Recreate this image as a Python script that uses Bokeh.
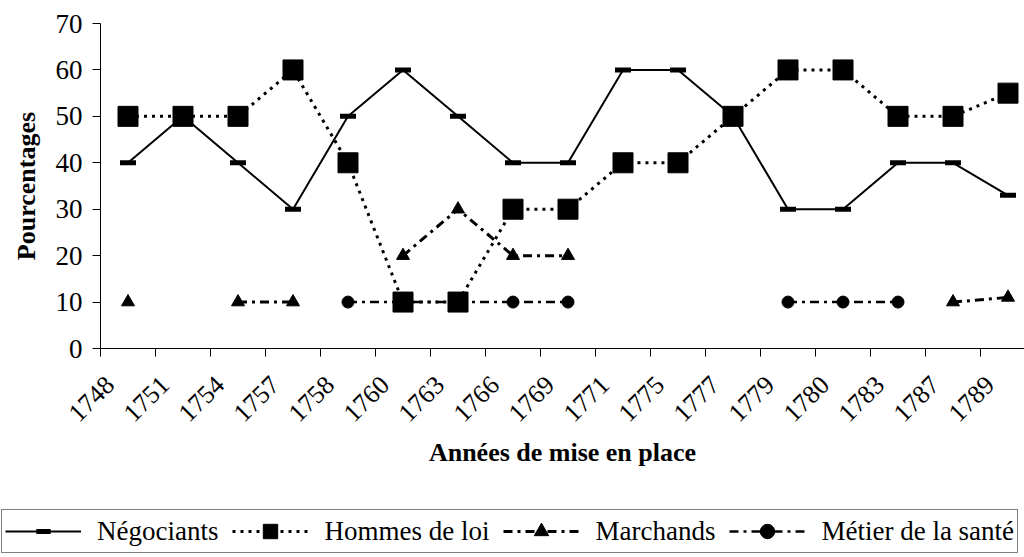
import math
from bokeh.plotting import figure
from bokeh.layouts import column
from bokeh.models import Range1d, FixedTicker, Legend, LegendItem
from bokeh.embed import file_html
from bokeh.resources import INLINE

nan = float("nan")

years = ["1748", "1751", "1754", "1757", "1758", "1760", "1763", "1766", "1769",
         "1771", "1775", "1777", "1779", "1780", "1783", "1787", "1789"]
negociants = [40, 50, 40, 30, 50, 60, 50, 40, 40, 60, 60, 50, 30, 30, 40, 40, 33]
hommes_de_loi = [50, 50, 50, 60, 40, 10, 10, 30, 30, 40, 40, 50, 60, 60, 50, 50, 55]
marchands = [10, nan, 10, 10, nan, 20, 30, 20, 20, nan, nan, nan, nan, nan, nan, 10, 11]
metier_sante = [nan, nan, nan, nan, 10, 10, 10, 10, 10, nan, nan, nan, 10, 10, 10, nan, nan]
series_names = ["Négociants", "Hommes de loi", "Marchands", "Métier de la santé"]
y_ticks = [0, 10, 20, 30, 40, 50, 60, 70]

x = list(range(len(years)))
FONT = "Liberation Serif"
LABEL_SHIFT = -0.33  # rotated labels sit a bit left of the category centre

p = figure(width=1024, height=500, output_backend="svg", toolbar_location=None,
           x_range=Range1d(-0.5, 16.3), y_range=Range1d(0, 70),
           min_border_left=100, min_border_right=0, min_border_top=23,
           min_border_bottom=152)
p.frame_align = False
p.outline_line_color = None
p.xgrid.visible = False
p.ygrid.visible = False
p.background_fill_color = "white"
p.border_fill_color = "white"

# x axis: labels near category centres, tick marks between categories
xa = p.xaxis[0]
label_pos = [i + LABEL_SHIFT for i in x]
xa.ticker = FixedTicker(ticks=label_pos, minor_ticks=[i - 0.5 for i in range(len(years) + 1)])
xa.major_label_overrides = {pos: yr for pos, yr in zip(label_pos, years)}
xa.major_tick_out = 0
xa.major_tick_in = 0
xa.minor_tick_out = 8
xa.minor_tick_in = 0
xa.minor_tick_line_color = "black"
xa.axis_line_color = "black"
xa.major_label_orientation = math.pi / 4
xa.major_label_text_font = FONT
xa.major_label_text_font_size = "26px"
xa.major_label_text_color = "black"
xa.major_label_standoff = 24
xa.axis_label = "Années de mise en place"
xa.axis_label_text_font = FONT
xa.axis_label_text_font_size = "26px"
xa.axis_label_text_font_style = "bold"
xa.axis_label_text_color = "black"
xa.axis_label_standoff = 6

ya = p.yaxis[0]
ya.ticker = FixedTicker(ticks=y_ticks)
ya.major_tick_out = 8
ya.major_tick_in = 0
ya.minor_tick_out = 0
ya.minor_tick_in = 0
ya.major_tick_line_color = "black"
ya.axis_line_color = "black"
ya.major_label_text_font = FONT
ya.major_label_text_font_size = "27px"
ya.major_label_text_color = "black"
ya.major_label_standoff = 10
ya.axis_label = "Pourcentages"
ya.axis_label_text_font = FONT
ya.axis_label_text_font_size = "26px"
ya.axis_label_text_font_style = "bold"
ya.axis_label_text_color = "black"
ya.axis_label_standoff = 12


def draw_series(fig, xs, ys):
    l1 = fig.line(xs, ys[0], line_color="black", line_width=2)
    l2 = fig.line(xs, ys[1], line_color="black", line_width=3, line_dash="3 5")
    l3 = fig.line(xs, ys[2], line_color="black", line_width=3, line_dash="9 5 3 5")
    l4 = fig.line(xs, ys[3], line_color="black", line_width=2.5, line_dash="9 5 3 5")
    m1 = fig.scatter(xs, ys[0], marker="dash", size=16, line_color="black", line_width=5)
    m2 = fig.scatter(xs, ys[1], marker="square", size=20, fill_color="black", line_color="black")
    m3 = fig.scatter(xs, ys[2], marker="triangle", size=13, fill_color="black", line_color="black")
    m4 = fig.scatter(xs, ys[3], marker="circle", size=12, fill_color="black", line_color="black")
    return [(l1, m1), (l2, m2), (l3, m3), (l4, m4)]


draw_series(p, x, [negociants, hommes_de_loi, marchands, metier_sante])

# legend strip below the chart (its renderers hold no visible points)
q = figure(width=1024, height=57, output_backend="svg", toolbar_location=None,
           x_range=Range1d(0, 1), y_range=Range1d(0, 1),
           x_axis_type=None, y_axis_type=None,
           min_border_left=0, min_border_right=0, min_border_top=0, min_border_bottom=0)
q.frame_align = False
q.outline_line_color = None
q.xgrid.visible = False
q.ygrid.visible = False
q.background_fill_color = "white"
q.border_fill_color = "white"
pairs = draw_series(q, [nan], [[nan], [nan], [nan], [nan]])

legend = Legend(items=[LegendItem(label=n, renderers=list(r)) for n, r in zip(series_names, pairs)],
                orientation="horizontal", location=(1, 4))
legend.label_text_font = FONT
legend.label_text_font_size = "27px"
legend.label_text_color = "black"
legend.label_height = 36
legend.glyph_width = 76
legend.glyph_height = 36
legend.label_standoff = 16
legend.spacing = 14
legend.padding = 3
legend.margin = 0
legend.border_line_color = "black"
legend.border_line_width = 1
legend.background_fill_color = "white"
legend.background_fill_alpha = 1
q.add_layout(legend)

layout = column(p, q, spacing=0)
open("out.html", "w").write(file_html(layout, INLINE))
